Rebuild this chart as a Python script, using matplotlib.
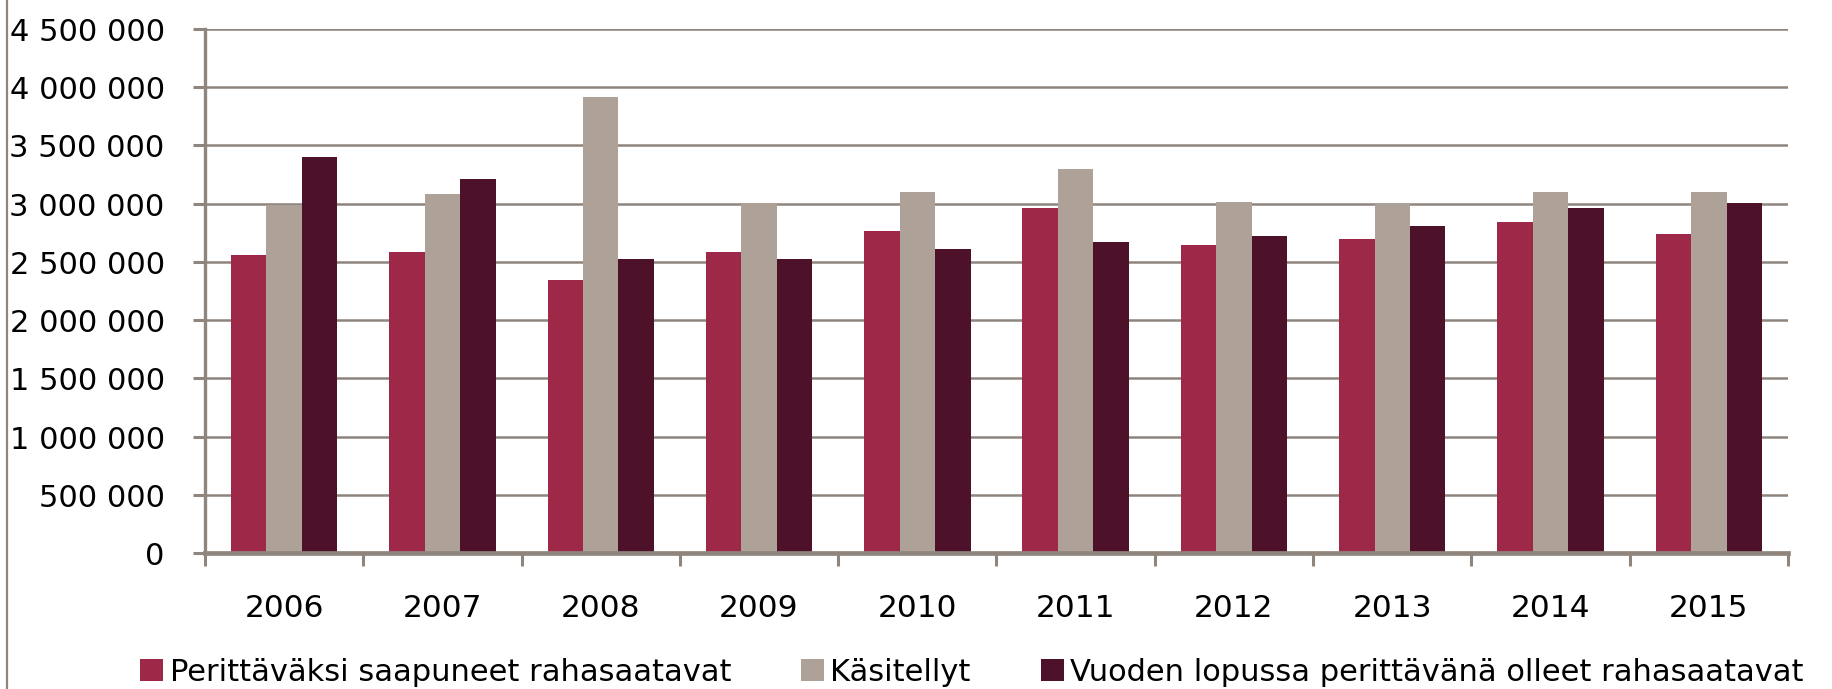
import matplotlib
matplotlib.use("Agg")
import matplotlib.pyplot as plt
import numpy as np
from matplotlib.lines import Line2D
from matplotlib.patches import Patch
from matplotlib.ticker import FuncFormatter, FixedLocator

years = ["2006", "2007", "2008", "2009", "2010", "2011", "2012", "2013", "2014", "2015"]
saapuneet = [2556000, 2584000, 2341000, 2589000, 2763000, 2966000, 2646000, 2700000, 2839000, 2742000]
kasitellyt = [2976000, 3079000, 3913000, 3008000, 3097000, 3302000, 3014000, 3000000, 3104000, 3104000]
vuoden_lopussa = [3399000, 3216000, 2524000, 2526000, 2612000, 2669000, 2726000, 2806000, 2959000, 3010000]

series_labels = [
    "Perittäväksi saapuneet rahasaatavat",
    "Käsitellyt",
    "Vuoden lopussa perittävänä olleet rahasaatavat",
]
colors = ["#9e2847", "#aea298", "#4d1129"]
axis_col = "#8f857d"

plt.rcParams["font.family"] = "DejaVu Sans"

fig = plt.figure(figsize=(18.33, 6.895), dpi=100)
ax = fig.add_axes([205 / 1833, 1 - 554 / 690, (1788 - 205) / 1833, (554 - 29.5) / 690])

x = np.arange(len(years))
w = 0.224
for i, vals in enumerate([saapuneet, kasitellyt, vuoden_lopussa]):
    ax.bar(x + (i - 1) * w, vals, width=w, color=colors[i], zorder=3)

ax.set_xlim(-0.5, len(years) - 0.5)
ax.set_ylim(0, 4500000)
ax.set_yticks(np.arange(0, 4500001, 500000))
ax.yaxis.set_major_formatter(FuncFormatter(lambda v, p: f"{v:,.0f}".replace(",", " ")))
ax.grid(axis="y", color=axis_col, linewidth=1.8, zorder=0)

ax.set_xticks(x)
ax.set_xticklabels(years)
ax.xaxis.set_minor_locator(FixedLocator(np.arange(-0.5, len(years), 1.0)))
ax.tick_params(axis="x", which="major", length=0, pad=29, labelsize=22.5)
ax.tick_params(axis="x", which="minor", length=9, width=2.2, color=axis_col, direction="out")
ax.tick_params(axis="y", length=9, width=2.2, color=axis_col, pad=20, labelsize=22)

for s in ["top", "right"]:
    ax.spines[s].set_visible(False)
ax.spines["left"].set_color(axis_col)
ax.spines["left"].set_linewidth(2.4)
ax.spines["bottom"].set_color(axis_col)
ax.spines["bottom"].set_linewidth(3.4)
ax.spines["bottom"].set_zorder(4)

# thin frame line along the left edge
fig.add_artist(Line2D([7 / 1833, 7 / 1833], [0, 1], color=axis_col, linewidth=1.6))

handles = [Patch(facecolor=c) for c in colors]
fig.legend(handles, series_labels, loc="center", bbox_to_anchor=(972 / 1833, 1 - 673 / 690),
           ncol=3, frameon=False, fontsize=22, handlelength=0.75, handleheight=0.75,
           handletextpad=0.2, columnspacing=2.3, borderpad=0, borderaxespad=0)

fig.savefig("out.png", dpi=100)
